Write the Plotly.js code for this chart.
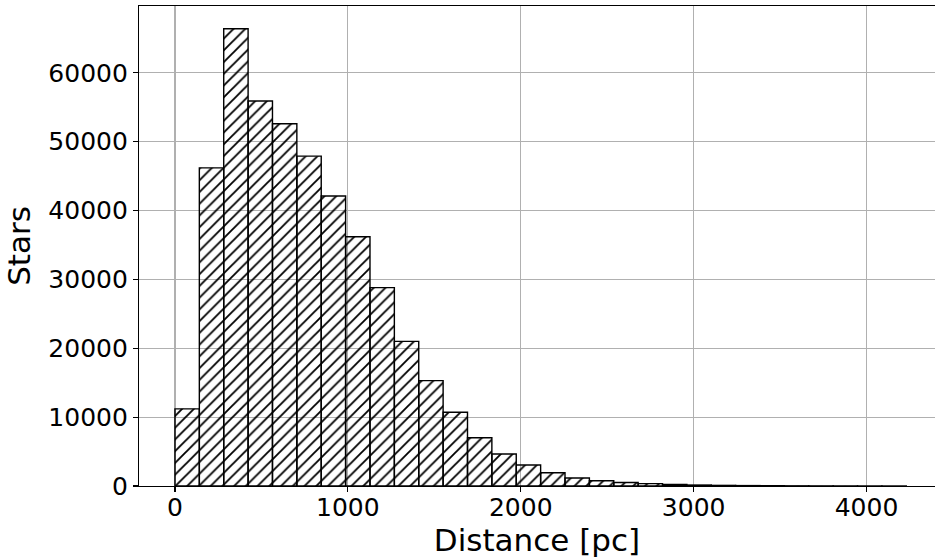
<!DOCTYPE html>
<html>
<head>
<meta charset="utf-8">
<script src="https://cdn.plot.ly/plotly-3.0.1.min.js"></script>
<style>
  html, body { margin: 0; padding: 0; background: #ffffff; }
  #chart { width: 935px; height: 559px; }
</style>
</head>
<body>
<div id="chart"></div>
<script>
// Histogram of stellar distances: 30 equal-width bins starting at 0 pc.
const binStart = 0;     // pc
const binWidth = 141;   // pc
const counts = [
  11200, 46200, 66400, 55900, 52600, 47900, 42100, 36200, 28800, 21000,
  15300, 10700, 7000, 4650, 3050, 1930, 1170, 770, 500, 340,
  220, 140, 90, 60, 40, 25, 15, 10, 6, 3
];
const xTicks = [0, 1000, 2000, 3000, 4000];
const yTicks = [0, 10000, 20000, 30000, 40000, 50000, 60000];

const binCenters = counts.map((_, i) => binStart + (i + 0.5) * binWidth);

const trace = {
  type: 'bar',
  x: binCenters,
  y: counts,
  width: binWidth,
  marker: {
    color: 'rgba(0,0,0,0)',
    line: { color: '#000000', width: 1.4 },
    pattern: {
      shape: '/',
      fgcolor: '#000000',
      bgcolor: 'rgba(0,0,0,0)',
      size: 8.3,
      solidity: 0.22
    }
  },
  hoverinfo: 'x+y'
};

const font = { family: 'DejaVu Sans, sans-serif', color: '#000000' };

const layout = {
  width: 935,
  height: 559,
  margin: { l: 139, r: 0, t: 6, b: 73 },
  paper_bgcolor: '#ffffff',
  plot_bgcolor: '#ffffff',
  showlegend: false,
  bargap: 0,
  font: font,
  xaxis: {
    range: [-208, 4396],
    tickvals: xTicks,
    ticktext: xTicks.map(String),
    ticks: 'outside',
    ticklen: 5,
    tickwidth: 1.1,
    tickcolor: '#000000',
    ticklabelstandoff: -6,
    tickfont: { family: font.family, size: 25, color: '#000000' },
    showline: true,
    linecolor: '#000000',
    linewidth: 1.1,
    mirror: true,
    showgrid: true,
    gridcolor: '#b0b0b0',
    gridwidth: 1.1,
    zeroline: false,
    title: { text: 'Distance [pc]', font: { family: font.family, size: 31, color: '#000000' }, standoff: 6 }
  },
  yaxis: {
    range: [0, 69700],
    tickvals: yTicks,
    ticktext: yTicks.map(String),
    ticks: 'outside',
    ticklen: 5,
    tickwidth: 1.1,
    tickcolor: '#000000',
    tickfont: { family: font.family, size: 25, color: '#000000' },
    showline: true,
    linecolor: '#000000',
    linewidth: 1.1,
    showgrid: true,
    gridcolor: '#b0b0b0',
    gridwidth: 1.1,
    zeroline: false,
    title: { text: 'Stars', font: { family: font.family, size: 31, color: '#000000' }, standoff: 8 }
  }
};

Plotly.newPlot('chart', [trace], layout, { displayModeBar: false, staticPlot: true });
</script>
</body>
</html>
